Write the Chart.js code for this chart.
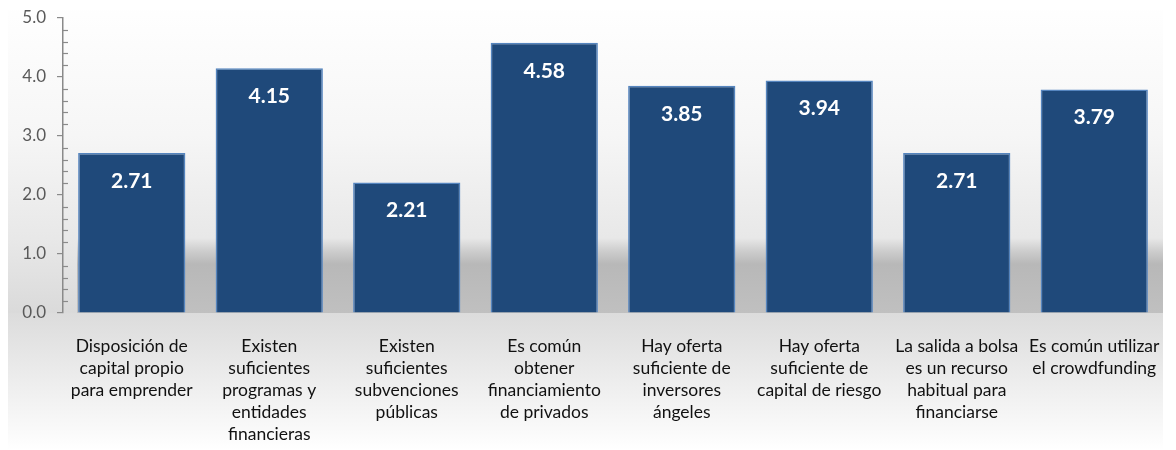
<!DOCTYPE html>
<html>
<head>
<meta charset="utf-8">
<script src="https://cdn.jsdelivr.net/npm/chart.js@4"></script>
<style>
  body { margin: 0; background: #fff; }
</style>
</head>
<body>
<canvas id="myChart" width="1176" height="450"></canvas>
<script>
const categories = [
  ['Disposición de', 'capital propio', 'para emprender'],
  ['Existen', 'suficientes', 'programas y', 'entidades', 'financieras'],
  ['Existen', 'suficientes', 'subvenciones', 'públicas'],
  ['Es común', 'obtener', 'financiamiento', 'de privados'],
  ['Hay oferta', 'suficiente de', 'inversores', 'ángeles'],
  ['Hay oferta', 'suficiente de', 'capital de riesgo'],
  ['La salida a bolsa', 'es un recurso', 'habitual para', 'financiarse'],
  ['Es común utilizar', 'el crowdfunding'],
]
const scores = [2.71, 4.15, 2.21, 4.58, 3.85, 3.94, 2.71, 3.79]
const yTicks = [0, 1, 2, 3, 4, 5]

// grey backdrop with the dark "floor" band behind the bars
const backdrop = {
  id: 'backdrop',
  beforeDraw(chart) {
    const ctx = chart.ctx
    const area = chart.chartArea
    const H = chart.height
    ctx.save()
    ctx.fillStyle = '#fff'
    ctx.fillRect(0, 0, chart.width, H)
    const g = ctx.createLinearGradient(0, 0, 0, H)
    g.addColorStop(0, '#ffffff')
    g.addColorStop(0.3, '#f6f6f6')
    g.addColorStop(238 / H, '#e8e8e8')
    g.addColorStop(250 / H, '#cfcfcf')
    g.addColorStop(264 / H, '#b8b8b8')
    g.addColorStop(area.bottom / H, '#c0c0c0')
    g.addColorStop((area.bottom + 0.5) / H, '#dcdcdc')
    g.addColorStop(0.97, '#fbfbfb')
    g.addColorStop(1, '#ffffff')
    ctx.fillStyle = g
    ctx.fillRect(8, 10, area.right - 8, H - 10)
    // lighter strip left of the first bar
    const g2 = ctx.createLinearGradient(0, 0, 0, H)
    g2.addColorStop(0, '#ffffff')
    g2.addColorStop(0.3, '#f6f6f6')
    g2.addColorStop(238 / H, '#e8e8e8')
    g2.addColorStop(area.bottom / H, '#dadada')
    g2.addColorStop((area.bottom + 0.5) / H, '#dcdcdc')
    g2.addColorStop(0.97, '#fbfbfb')
    g2.addColorStop(1, '#ffffff')
    ctx.fillStyle = g2
    ctx.fillRect(8, 10, area.left + 14 - 8, H - 10)
    ctx.restore()
  }
}

// minor ticks every 0.2 on the value axis
const minorTicks = {
  id: 'minorTicks',
  afterDraw(chart) {
    const y = chart.scales.y
    const ctx = chart.ctx
    const x0 = chart.chartArea.left
    ctx.save()
    ctx.strokeStyle = '#8a8a8a'
    ctx.lineWidth = 1.2
    for (let i = 0; i <= 25; i++) {
      if (i % 5 === 0) continue
      const py = Math.round(y.getPixelForValue(i / 5)) + 0.5
      ctx.beginPath()
      ctx.moveTo(x0, py)
      ctx.lineTo(x0 + 5, py)
      ctx.stroke()
    }
    ctx.restore()
  }
}

// white value labels inside the top of each bar
const valueLabels = {
  id: 'valueLabels',
  afterDatasetsDraw(chart) {
    const ctx = chart.ctx
    const meta = chart.getDatasetMeta(0)
    ctx.save()
    ctx.fillStyle = '#ffffff'
    ctx.font = 'bold 21px Lato'
    ctx.textAlign = 'center'
    ctx.textBaseline = 'middle'
    meta.data.forEach((bar, i) => {
      ctx.fillText(scores[i].toFixed(2), bar.x, bar.y + 28)
    })
    ctx.restore()
  }
}

new Chart(document.getElementById('myChart'), {
  type: 'bar',
  data: {
    labels: categories,
    datasets: [
      {
        data: scores,
        backgroundColor: '#1f497a',
        borderColor: '#5585bf',
        borderWidth: 1.5,
        barPercentage: 0.78,
        categoryPercentage: 1,
      },
    ],
  },
  options: {
    responsive: false,
    animation: false,
    devicePixelRatio: 1,
    layout: { padding: { left: 0, right: 13, top: 18, bottom: 0 } },
    plugins: { legend: { display: false }, tooltip: { enabled: false } },
    scales: {
      x: {
        grid: { display: false },
        border: { display: false },
        ticks: {
          color: '#111',
          font: { family: 'Lato', size: 17.5, lineHeight: 1.26 },
          padding: 14,
          maxRotation: 0,
          autoSkip: false,
        },
        afterFit(s) { s.height = 137 },
      },
      y: {
        min: 0,
        max: 5,
        afterBuildTicks(s) { s.ticks = yTicks.map(v => ({ value: v })) },
        grid: { drawOnChartArea: false, drawTicks: true, tickLength: 6, color: '#8a8a8a', lineWidth: 1.2 },
        border: { display: true, color: '#8a8a8a', width: 1.5 },
        ticks: {
          color: '#595959',
          font: { family: 'Lato', size: 17, lineHeight: 1 },
          padding: 11,
          callback: v => v.toFixed(1),
        },
        afterFit(s) { s.width = 63; s.paddingTop = 0; s.paddingBottom = 0 },
      },
    },
  },
  plugins: [backdrop, minorTicks, valueLabels],
})
</script>
</body>
</html>
